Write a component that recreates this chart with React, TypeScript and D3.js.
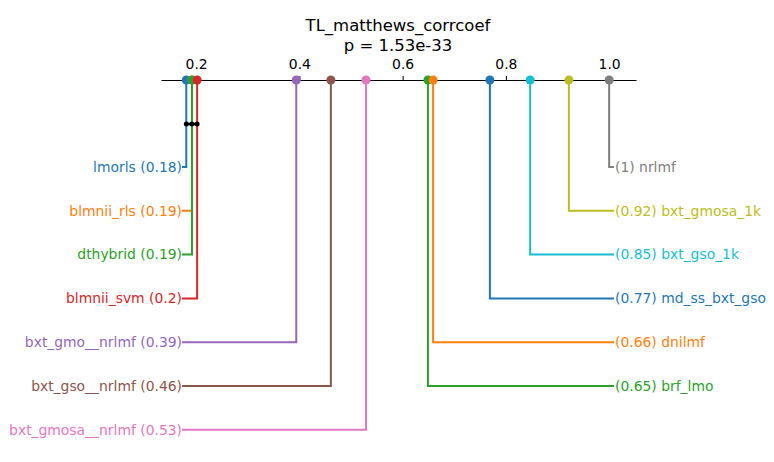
import React, { useEffect, useRef } from 'react';
import * as d3 from 'd3';

// estimators and their mean scores
const leftNames = ['lmorls', 'blmnii_rls', 'dthybrid', 'blmnii_svm', 'bxt_gmo__nrlmf', 'bxt_gso__nrlmf', 'bxt_gmosa__nrlmf'];
const leftValues = [0.181, 0.192, 0.192, 0.202, 0.394, 0.461, 0.529];
const leftColors = ['#1f77b4', '#ff7f0e', '#2ca02c', '#d62728', '#9467bd', '#8c564b', '#e377c2'];

const rightNames = ['nrlmf', 'bxt_gmosa_1k', 'bxt_gso_1k', 'md_ss_bxt_gso', 'dnilmf', 'brf_lmo'];
const rightValues = [1.0, 0.922, 0.847, 0.769, 0.659, 0.649];
const rightColors = ['#7f7f7f', '#bcbd22', '#17becf', '#1f77b4', '#ff7f0e', '#2ca02c'];

// groups not significantly different (crossbar)
const cliques = [[0.181, 0.192, 0.202]];

const tickValues = [0.2, 0.4, 0.6, 0.8, 1.0];
const title = 'TL_matthews_corrcoef';
const subtitle = 'p = 1.53e-33';

const fmt = (v: number) => String(+v.toFixed(2));

const App: React.FC = () => {
  const svgRef = useRef<SVGSVGElement>(null);

  useEffect(() => {
    if (!svgRef.current) return;
    const svg = d3.select(svgRef.current);
    svg.selectAll('*').remove();

    const width = 774;
    const height = 462;
    const axisY = 80;
    const rowStart = 167;
    const rowStep = 43.8;
    const leftEnd = 182;
    const rightStart = 614;
    const font = 'DejaVu Sans, sans-serif';
    const fs = '13.9px';

    const x = d3.scaleLinear().domain([0.132, 1.052]).range([161, 636]);

    svg.attr('width', width).attr('height', height);

    // title
    svg.append('text')
      .attr('x', 398).attr('y', 31)
      .attr('text-anchor', 'middle')
      .style('font-family', font).style('font-size', '16.5px')
      .text(title);
    svg.append('text')
      .attr('x', 398).attr('y', 51)
      .attr('text-anchor', 'middle')
      .style('font-family', font).style('font-size', '16.5px')
      .text(subtitle);

    // axis
    const axis = svg.append('g')
      .attr('transform', `translate(0, ${axisY})`)
      .call(d3.axisTop(x).tickValues(tickValues).tickFormat(d3.format('.1f')).tickSize(4).tickSizeOuter(0));
    axis.attr('font-size', null).attr('font-family', null);
    axis.select('.domain').attr('stroke', '#000').attr('stroke-width', 1.1);
    axis.selectAll('.tick line').attr('stroke', '#000').attr('stroke-width', 1);
    axis.selectAll('.tick text')
      .attr('y', -11)
      .attr('dy', 0)
      .style('font-family', font).style('font-size', fs).style('fill', '#000');

    const lines = svg.append('g');
    const dots = svg.append('g');
    const labels = svg.append('g');

    // left side
    leftNames.forEach((name, i) => {
      const v = leftValues[i];
      const y = rowStart + i * rowStep;
      lines.append('path')
        .attr('d', `M${x(v)},${axisY}V${y}H${leftEnd}`)
        .attr('fill', 'none').attr('stroke', leftColors[i]).attr('stroke-width', 2);
      labels.append('text')
        .attr('x', leftEnd).attr('y', y)
        .attr('dy', '0.35em').attr('text-anchor', 'end')
        .style('font-family', font).style('font-size', fs)
        .style('fill', leftColors[i])
        .text(`${name} (${fmt(v)})`);
    });

    // right side
    rightNames.forEach((name, i) => {
      const v = rightValues[i];
      const y = rowStart + i * rowStep;
      lines.append('path')
        .attr('d', `M${x(v)},${axisY}V${y}H${rightStart}`)
        .attr('fill', 'none').attr('stroke', rightColors[i]).attr('stroke-width', 2);
      labels.append('text')
        .attr('x', rightStart + 1).attr('y', y)
        .attr('dy', '0.35em').attr('text-anchor', 'start')
        .style('font-family', font).style('font-size', fs)
        .style('fill', rightColors[i])
        .text(`(${fmt(v)}) ${name}`);
    });

    // markers on the axis
    const all = [
      ...rightNames.map((_, i) => ({ v: rightValues[i], c: rightColors[i] })).reverse(),
      ...leftNames.map((_, i) => ({ v: leftValues[i], c: leftColors[i] })),
    ];
    dots.selectAll('circle')
      .data(all)
      .enter()
      .append('circle')
      .attr('cx', d => x(d.v))
      .attr('cy', axisY)
      .attr('r', 4.5)
      .attr('fill', d => d.c);

    // crossbars
    const cy = 124;
    cliques.forEach(cl => {
      svg.append('line')
        .attr('x1', x(d3.min(cl)!)).attr('x2', x(d3.max(cl)!))
        .attr('y1', cy).attr('y2', cy)
        .attr('stroke', '#000').attr('stroke-width', 2.5);
      svg.append('g').selectAll('circle')
        .data(cl)
        .enter()
        .append('circle')
        .attr('cx', d => x(d)).attr('cy', cy).attr('r', 2.5)
        .attr('fill', '#000');
    });
  }, []);

  return (
    <svg ref={svgRef} style={{ position: 'absolute', left: 0, top: 0, background: '#fff' }}></svg>
  );
};

export default App;
